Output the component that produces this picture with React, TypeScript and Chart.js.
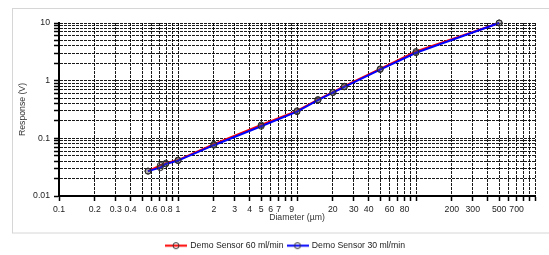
import React, { useEffect, useRef } from "react";
import { Chart, registerables } from "chart.js";

Chart.register(...registerables);

const diametersRed = [0.56, 0.71, 0.79, 1, 2, 5, 10, 15, 20, 25, 50, 100, 500];
const responseRed = [0.027, 0.034, 0.037, 0.042, 0.079, 0.17, 0.3, 0.47, 0.63, 0.8, 1.6, 3.2, 10];
const diametersBlue = [0.56, 0.71, 0.79, 1, 2, 5, 10, 15, 20, 25, 50, 100, 500];
const responseBlue = [0.027, 0.031, 0.036, 0.041, 0.076, 0.162, 0.29, 0.46, 0.62, 0.78, 1.56, 3.05, 10];

const xLabels = [0.1, 0.2, 0.3, 0.4, 0.6, 0.8, 1, 2, 3, 4, 5, 6, 7, 9, 20, 30, 40, 60, 80, 200, 300, 500, 700];
const yLabels = [0.01, 0.1, 1, 10];
const xDecades = [0.1, 1, 10, 100];
const yDecades = [0.01, 0.1, 1];
const seriesNames = ["Demo Sensor 60 ml/min", "Demo Sensor 30 ml/min"];
const seriesColors = ["#ff0000", "#0000ff"];

const FONT = "'Liberation Sans', Arial, sans-serif";

function logTicks(decades: number[]) {
  const out: number[] = [];
  decades.forEach((d) => {
    for (let m = 1; m <= 9; m++) out.push(Number((m * d).toPrecision(6)));
  });
  out.push(Number((decades[decades.length - 1] * 10).toPrecision(6)));
  return out;
}

function legendIcon(color: string) {
  const c = document.createElement("canvas");
  c.width = 22;
  c.height = 9;
  const g = c.getContext("2d")!;
  g.strokeStyle = color;
  g.lineWidth = 2;
  g.beginPath();
  g.moveTo(0, 4.5);
  g.lineTo(22, 4.5);
  g.stroke();
  g.strokeStyle = "#333";
  g.lineWidth = 1;
  g.beginPath();
  g.arc(11, 4.5, 3, 0, Math.PI * 2);
  g.stroke();
  return c;
}

export default function App() {
  const ref = useRef<HTMLCanvasElement | null>(null);
  useEffect(() => {
    if (!ref.current) return;
    const icons = seriesColors.map(legendIcon);
    const xTickVals = logTicks(xDecades);
    const yTickVals = logTicks(yDecades);
    const xSet = new Set(xLabels);
    const ySet = new Set(yLabels);

    const framePlugin = {
      id: "frame",
      beforeDraw(chart: any) {
        const ctx = chart.ctx;
        ctx.save();
        ctx.fillStyle = "#ffffff";
        ctx.fillRect(0, 0, chart.width, chart.height);
        ctx.strokeStyle = "#d6d6d6";
        ctx.lineWidth = 1;
        ctx.strokeRect(12.5, 8.5, 600, 224.5);
        ctx.restore();
      },
      afterLayout(chart: any) {
        if (chart.legend) {
          chart.legend.left = 36;
          chart.legend.right = 535;
        }
      },
    };

    const gridCommon = {
      color: "rgba(0,0,0,0.9)",
      lineWidth: 1,
      drawTicks: true,
      tickLength: 5,
      tickColor: "#000",
      tickWidth: 1.5,
      tickBorderDash: [],
    };

    const pointStyleOpts = {
      pointRadius: 3,
      pointBorderColor: "#2a2a2a",
      pointBackgroundColor: "rgba(90,90,90,0.3)",
      pointBorderWidth: 1,
      clip: false,
      tension: 0,
      borderWidth: 2,
    };

    const chart = new Chart(ref.current, {
      type: "line",
      data: {
        datasets: [
          {
            label: seriesNames[0],
            data: diametersRed.map((x, i) => ({ x, y: responseRed[i] })),
            borderColor: seriesColors[0],
            backgroundColor: seriesColors[0],
            order: 1,
            ...pointStyleOpts,
          },
          {
            label: seriesNames[1],
            data: diametersBlue.map((x, i) => ({ x, y: responseBlue[i] })),
            borderColor: seriesColors[1],
            backgroundColor: seriesColors[1],
            order: 0,
            ...pointStyleOpts,
          },
        ],
      },
      options: {
        animation: false,
        responsive: false,
        layout: { padding: { left: 0, right: 14, top: 23, bottom: -5 } },
        scales: {
          x: {
            type: "logarithmic",
            min: 0.1,
            max: 1000,
            afterBuildTicks: (scale: any) => {
              scale.ticks = xTickVals.map((v) => ({ value: v }));
            },
            afterFit: (scale: any) => {
              scale.height = 41.3;
            },
            ticks: {
              autoSkip: false,
              maxRotation: 0,
              padding: 3,
              color: "#222",
              font: { family: FONT, size: 8.7 },
              callback: (v: any) => (xSet.has(Number(v)) ? String(v) : ""),
            },
            grid: gridCommon,
            border: { display: true, color: "#000", width: 2, dash: [3, 1] },
            title: {
              display: true,
              text: "Diameter (µm)",
              color: "#333",
              font: { family: FONT, size: 8.7 },
              padding: { top: 0, bottom: 14 },
            },
          },
          y: {
            type: "logarithmic",
            min: 0.01,
            max: 10,
            afterBuildTicks: (scale: any) => {
              scale.ticks = yTickVals.map((v) => ({ value: v }));
            },
            afterFit: (scale: any) => {
              scale.width = 59;
            },
            ticks: {
              autoSkip: false,
              padding: 4,
              color: "#222",
              font: { family: FONT, size: 8.7 },
              callback: (v: any) => (ySet.has(Number(v)) ? String(v) : ""),
            },
            grid: gridCommon,
            border: { display: true, color: "#000", width: 2, dash: [3, 1] },
            title: {
              display: true,
              text: "Response (V)",
              color: "#333",
              font: { family: FONT, size: 8.7 },
              padding: { top: 17, bottom: 0 },
            },
          },
        },
        plugins: {
          legend: {
            display: true,
            position: "bottom",
            labels: {
              usePointStyle: true,
              pointStyleWidth: 20,
              padding: 4,
              color: "#222",
              font: { family: FONT, size: 8.7 },
              sort: (a: any, b: any) => a.datasetIndex - b.datasetIndex,
              generateLabels: (ch: any) => {
                const items = (Chart.defaults.plugins.legend.labels as any).generateLabels(ch);
                return items.map((it: any) => ({ ...it, pointStyle: icons[it.datasetIndex] }));
              },
            },
          },
          tooltip: { enabled: false },
        },
      },
      plugins: [framePlugin],
    } as any);
    return () => chart.destroy();
  }, []);

  return (
    <div style={{ position: "absolute", left: 0, top: 0, width: 549, height: 255 }}>
      <canvas ref={ref} width={549} height={255} style={{ width: 549, height: 255 }} />
    </div>
  );
}
